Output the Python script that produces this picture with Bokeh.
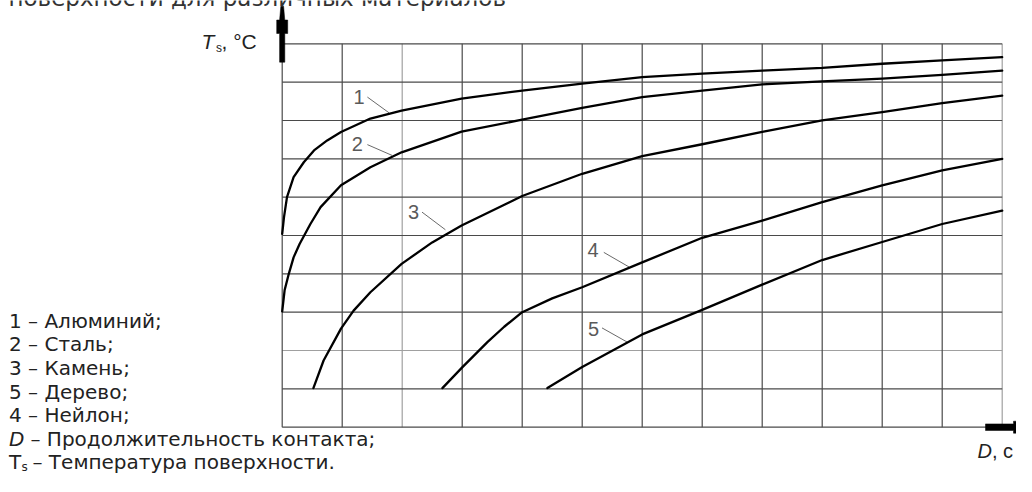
from bokeh.plotting import figure
from bokeh.models import Range1d, Label
from bokeh.embed import file_html
from bokeh.resources import INLINE

# ---------------- data ----------------
grid_cols = list(range(0, 13))          # D axis grid, 12 cells
grid_rows = list(range(0, 11))          # T axis grid, 10 cells
light_cols = [2, 12]
light_rows = [2]

# curve 1 - aluminium
c1_x = [0.0, 0.03, 0.08, 0.19, 0.36, 0.53, 0.75, 0.98, 1.47, 1.99, 2.99, 4.0, 5.0, 6.0, 7.0, 8.0, 9.0, 10.0, 11.0, 12.0]
c1_y = [5.04, 5.48, 6.0, 6.52, 6.91, 7.22, 7.48, 7.70, 8.05, 8.26, 8.57, 8.78, 8.96, 9.13, 9.22, 9.30, 9.37, 9.48, 9.57, 9.65]
# curve 2 - steel
c2_x = [0.0, 0.04, 0.11, 0.19, 0.29, 0.47, 0.64, 0.98, 1.47, 1.99, 2.99, 4.0, 5.0, 6.0, 7.0, 8.0, 9.0, 10.0, 11.0, 12.0]
c2_y = [3.02, 3.57, 4.0, 4.43, 4.78, 5.30, 5.74, 6.31, 6.78, 7.17, 7.71, 8.02, 8.33, 8.61, 8.78, 8.94, 9.02, 9.09, 9.19, 9.30]
# curve 3 - stone
c3_x = [0.52, 0.69, 0.98, 1.19, 1.47, 1.99, 2.5, 2.99, 4.0, 5.0, 6.0, 7.0, 8.0, 9.0, 10.0, 11.0, 12.0]
c3_y = [1.02, 1.74, 2.57, 3.04, 3.52, 4.26, 4.82, 5.26, 6.03, 6.61, 7.07, 7.38, 7.70, 8.0, 8.22, 8.45, 8.65]
# curve 4 - nylon
c4_x = [2.67, 3.0, 3.42, 3.7, 4.0, 4.5, 5.0, 6.0, 7.0, 8.0, 9.0, 10.0, 11.0, 12.0]
c4_y = [1.02, 1.56, 2.22, 2.62, 3.0, 3.36, 3.65, 4.30, 4.94, 5.39, 5.87, 6.31, 6.70, 7.0]
# curve 5 - wood
c5_x = [4.42, 5.0, 6.0, 7.0, 8.0, 9.0, 10.0, 11.0, 12.0]
c5_y = [1.02, 1.57, 2.42, 3.06, 3.72, 4.36, 4.83, 5.30, 5.65]

curve_xs = [c1_x, c2_x, c3_x, c4_x, c5_x]
curve_ys = [c1_y, c2_y, c3_y, c4_y, c5_y]

# curve number labels and their leader lines
num_text = ["1", "2", "3", "4", "5"]
num_x = [1.28, 1.25, 2.19, 5.18, 5.19]
num_y = [8.61, 7.39, 5.61, 4.61, 2.57]
lead_x0 = [1.42, 1.42, 2.33, 5.36, 5.33]
lead_y0 = [8.61, 7.37, 5.61, 4.56, 2.59]
lead_x1 = [1.78, 1.83, 2.72, 5.78, 5.75]
lead_y1 = [8.20, 7.09, 5.15, 4.18, 2.22]

caption = "поверхности для различных материалов"
legend_lines = ["1 \u2013 Алюминий;", "2 \u2013 Сталь;", "3 \u2013 Камень;",
                "5 \u2013 Дерево;", "4 \u2013 Нейлон;"]
legend_d_sym = "D"
legend_d_rest = "\u2013 Продолжительность контакта;"
legend_t_sym = "T"
legend_t_sub = "s"
legend_t_rest = "\u2013 Температура поверхности."
y_title_sym, y_title_sub, y_title_rest = "T", "s", ", °C"
x_title_sym, x_title_rest = "D", ", c"

# ---------------- layout ----------------
W, H = 1016, 476
GX0, GX1 = 281.7, 1001.7      # pixel x of D=0 and D=12
GY0, GY1 = 426.7, 43.3        # pixel y of T=0 and T=10
SX = (GX1 - GX0) / 12.0
SY = (GY0 - GY1) / 10.0
X0 = -GX0 / SX
X1 = X0 + W / SX
Y1 = 10 + GY1 / SY
Y0 = Y1 - H / SY


def px(xp):
    return X0 + xp / SX


def py(yp):
    return Y1 - yp / SY


p = figure(width=W, height=H, x_range=Range1d(X0, X1), y_range=Range1d(Y0, Y1),
           x_axis_type=None, y_axis_type=None, toolbar_location=None,
           output_backend="svg", min_border=0, outline_line_color=None)
p.background_fill_color = "white"
p.border_fill_color = "white"

xmax = grid_cols[-1]
ymax = grid_rows[-1]

dark_c = [c for c in grid_cols if c not in light_cols]
dark_r = [r for r in grid_rows if r not in light_rows]
p.segment(x0=light_cols, y0=[0] * len(light_cols), x1=light_cols, y1=[ymax] * len(light_cols),
          line_color="#a0a0a0", line_width=1.2)
p.segment(x0=[0] * len(light_rows), y0=light_rows, x1=[xmax] * len(light_rows), y1=light_rows,
          line_color="#a0a0a0", line_width=1.2)
p.segment(x0=dark_c, y0=[0] * len(dark_c), x1=dark_c, y1=[ymax] * len(dark_c),
          line_color="#4a4a4a", line_width=1.2)
p.segment(x0=[0] * len(dark_r), y0=dark_r, x1=[xmax] * len(dark_r), y1=dark_r,
          line_color="#4a4a4a", line_width=1.2)

# leader lines
p.segment(x0=lead_x0, y0=lead_y0, x1=lead_x1, y1=lead_y1, line_color="#6a6a6a", line_width=1)

# curves
for cx, cy in zip(curve_xs, curve_ys):
    p.line(cx, cy, line_color="black", line_width=2.3, line_join="round", line_cap="round")

# axis arrows (shapes defined in pixels, relative to the axis ends)
v_shape = [(-2.6, -18.4), (2.6, -18.4), (2.6, 10.3), (5.5, 10.3), (5.5, 23.8), (2.6, 23.8),
           (1.4, 37.5), (-1.4, 37.5), (-2.6, 23.8), (-5.5, 23.8), (-5.5, 10.3), (-2.6, 10.3)]
p.patch([0 + dx / SX for dx, dy in v_shape], [ymax + dy / SY for dx, dy in v_shape],
        fill_color="black", line_color="black", line_width=0.5)
h_shape = [(-16.7, -3.3), (11.3, -3.3), (11.3, -6.0), (23.3, -6.0), (23.3, -3.3), (40, -3.3),
           (40, 3.3), (23.3, 3.3), (23.3, 6.0), (11.3, 6.0), (11.3, 3.3), (-16.7, 3.3)]
p.patch([xmax + dx / SX for dx, dy in h_shape], [0 + dy / SY for dx, dy in h_shape],
        fill_color="black", line_color="black", line_width=0.5)


def lab(x, y, text, size, color="#222222", style="normal", align="left",
        font="Liberation Sans", baseline="middle"):
    p.add_layout(Label(x=x, y=y, text=text, text_font=font, text_font_size=size,
                       text_color=color, text_font_style=style, text_align=align,
                       text_baseline=baseline))


# caption cut by the top edge, as in the reference
lab(px(8), py(-3), caption, "23px", color="#333333", font="DejaVu Sans", baseline="alphabetic")

# curve numbers
for t, x, y in zip(num_text, num_x, num_y):
    lab(x, y, t, "20px", color="#5a5a5a", align="center")

# axis titles
lab(px(201), py(41), y_title_sym, "21px", style="italic")
lab(px(215.5), py(47), y_title_sub, "12px")
lab(px(221), py(41), y_title_rest, "21px")
lab(px(977), py(450), x_title_sym, "20px", style="italic")
lab(px(991.5), py(450), x_title_rest, "20px")

# legend
LEG = "20px"
LF = "DejaVu Sans"
leg_y = [320.3, 343.9, 367.5, 391.1, 414.7, 438.3, 461.9]
for t, yy in zip(legend_lines, leg_y[:5]):
    lab(px(8.5), py(yy), t, LEG, font=LF)
lab(px(8.5), py(leg_y[5]), legend_d_sym, LEG, style="italic", font=LF)
lab(px(30), py(leg_y[5]), legend_d_rest, LEG, font=LF)
lab(px(8.5), py(leg_y[6]), legend_t_sym, LEG, font=LF)
lab(px(21), py(leg_y[6] + 5), legend_t_sub, "12px", font=LF)
lab(px(32), py(leg_y[6]), legend_t_rest, LEG, font=LF)

open("out.html", "w").write(file_html(p, INLINE))
